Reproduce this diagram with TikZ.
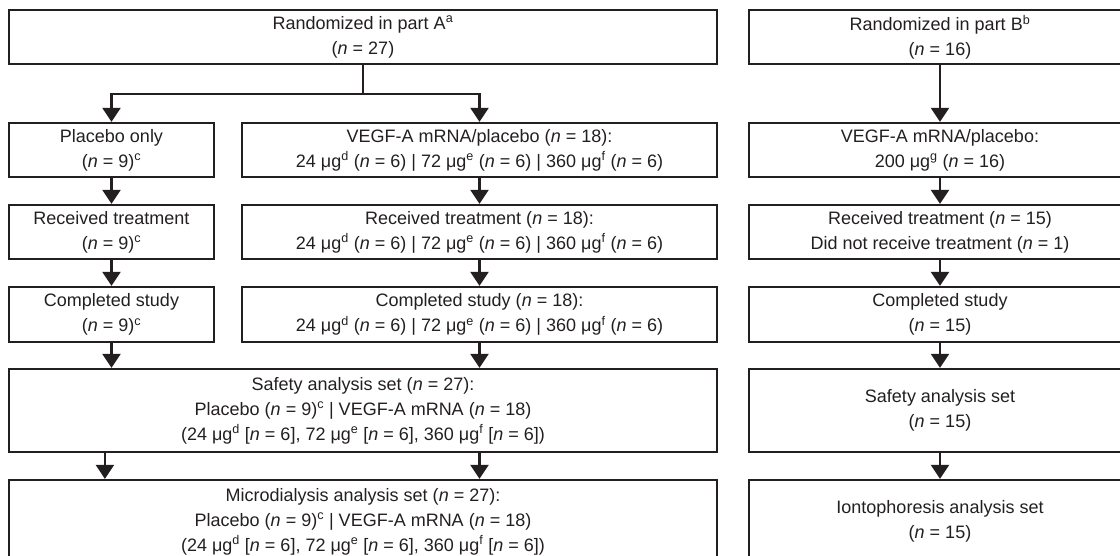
\documentclass[tikz,border=0pt]{standalone}
\usepackage{fontspec}
\setmainfont{Liberation Sans}
\usetikzlibrary{arrows.meta}
\definecolor{ink}{HTML}{231F20}
\newcommand{\nn}{\textit{n}}
\begin{document}
\begin{tikzpicture}[x=1pt,y=-1pt,
  box/.style={draw=ink, line width=2.2pt, inner sep=0pt, align=center, text=ink,
    font=\fontsize{18}{25}\selectfont},
  ln/.style={draw=ink, line width=2.2pt},
  arr/.style={draw=ink, line width=2.2pt, -{Triangle[length=14pt,width=18pt]}}]
\useasboundingbox (0,0) rectangle (1120,555);
\clip (0,0) rectangle (1120,555);
% left column
\node[box, minimum width=708pt, minimum height=54pt] (A) at (363,37)
  {Randomized in part A\textsuperscript{a}\\(\nn{} = 27)};
\node[box, minimum width=205pt, minimum height=54pt] (P1) at (111.5,150)
  {Placebo only\\(\nn{} = 9)\textsuperscript{c}};
\node[box, minimum width=475pt, minimum height=54pt] (V1) at (479.5,150)
  {VEGF-A mRNA/placebo (\nn{} = 18):\\24 μg\textsuperscript{d} (\nn{} = 6) | 72 μg\textsuperscript{e} (\nn{} = 6) | 360 μg\textsuperscript{f} (\nn{} = 6)};
\node[box, minimum width=205pt, minimum height=54pt] (P2) at (111.5,232)
  {Received treatment\\(\nn{} = 9)\textsuperscript{c}};
\node[box, minimum width=475pt, minimum height=54pt] (V2) at (479.5,232)
  {Received treatment (\nn{} = 18):\\24 μg\textsuperscript{d} (\nn{} = 6) | 72 μg\textsuperscript{e} (\nn{} = 6) | 360 μg\textsuperscript{f} (\nn{} = 6)};
\node[box, minimum width=205pt, minimum height=55pt] (P3) at (111.5,314.5)
  {Completed study\\(\nn{} = 9)\textsuperscript{c}};
\node[box, minimum width=475pt, minimum height=55pt] (V3) at (479.5,314.5)
  {Completed study (\nn{} = 18):\\24 μg\textsuperscript{d} (\nn{} = 6) | 72 μg\textsuperscript{e} (\nn{} = 6) | 360 μg\textsuperscript{f} (\nn{} = 6)};
\node[box, minimum width=708pt, minimum height=83pt] (S) at (363,410.5)
  {Safety analysis set (\nn{} = 27):\\Placebo (\nn{} = 9)\textsuperscript{c} | VEGF-A mRNA (\nn{} = 18)\\(24 μg\textsuperscript{d} [\nn{} = 6], 72 μg\textsuperscript{e} [\nn{} = 6], 360 μg\textsuperscript{f} [\nn{} = 6])};
\node[box, minimum width=708pt, minimum height=83pt] (M) at (363,521.5)
  {Microdialysis analysis set (\nn{} = 27):\\Placebo (\nn{} = 9)\textsuperscript{c} | VEGF-A mRNA (\nn{} = 18)\\(24 μg\textsuperscript{d} [\nn{} = 6], 72 μg\textsuperscript{e} [\nn{} = 6], 360 μg\textsuperscript{f} [\nn{} = 6])};
% right column
\node[box, minimum width=382pt, minimum height=54pt] (B0) at (940,37)
  {Randomized in part B\textsuperscript{b}\\(\nn{} = 16)};
\node[box, minimum width=382pt, minimum height=54pt] (B1) at (940,150)
  {VEGF-A mRNA/placebo:\\200 μg\textsuperscript{g} (\nn{} = 16)};
\node[box, minimum width=382pt, minimum height=54pt] (B2) at (940,232)
  {Received treatment (\nn{} = 15)\\Did not receive treatment (\nn{} = 1)};
\node[box, minimum width=382pt, minimum height=55pt] (B3) at (940,314.5)
  {Completed study\\(\nn{} = 15)};
\node[box, minimum width=382pt, minimum height=83pt] (B4) at (940,410.5)
  {Safety analysis set\\(\nn{} = 15)};
\node[box, minimum width=382pt, minimum height=83pt] (B5) at (940,521.5)
  {Iontophoresis analysis set\\(\nn{} = 15)};
% connectors
\coordinate (split) at (363,94);
\draw[ln] (A.south) -- (split);
\draw[arr] (split) -| (P1.north);
\draw[arr] (split) -| (V1.north);
\draw[arr] (P1) -- (P2);
\draw[arr] (V1) -- (V2);
\draw[arr] (P2) -- (P3);
\draw[arr] (V2) -- (V3);
\draw[arr] (P3.south) -- (P3.south |- S.north);
\draw[arr] (V3.south) -- (V3.south |- S.north);
\draw[arr] ([xshift=97pt]S.south west) -- ([xshift=97pt]S.south west |- M.north);
\draw[arr] (V3.south |- S.south) -- (V3.south |- M.north);
\draw[arr] (B0) -- (B1);
\draw[arr] (B1) -- (B2);
\draw[arr] (B2) -- (B3);
\draw[arr] (B3) -- (B4);
\draw[arr] (B4) -- (B5);
\end{tikzpicture}
\end{document}
